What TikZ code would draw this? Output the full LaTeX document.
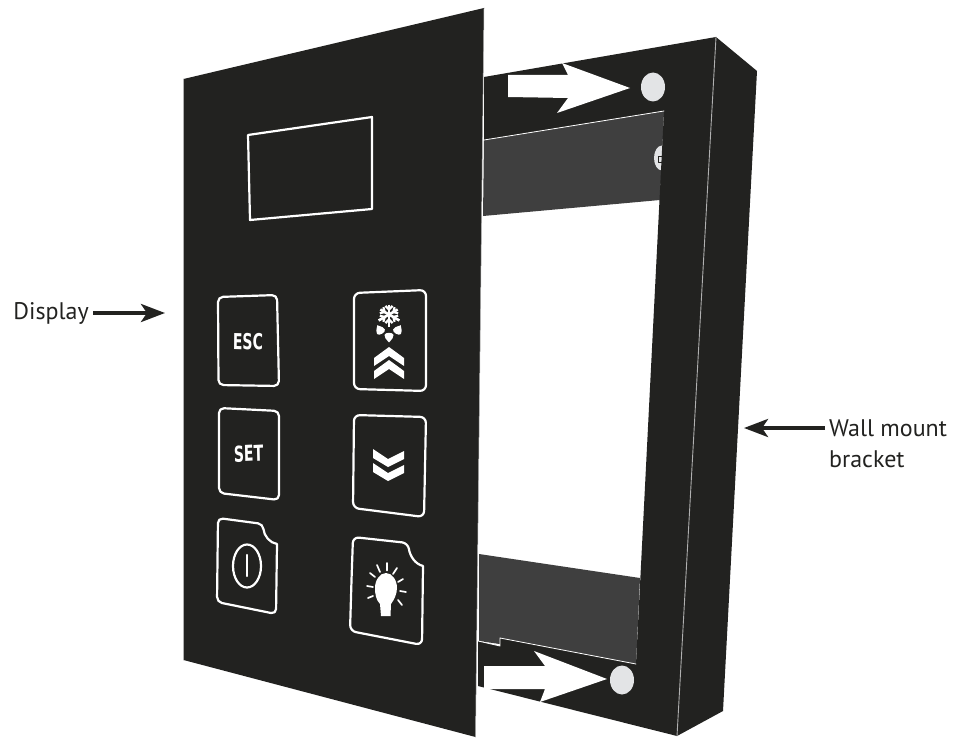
\documentclass[tikz,border=0pt]{standalone}
\usepackage{fontspec}
\setmainfont{PT Sans}
\newfontfamily\keyfont{DejaVu Sans}
\usetikzlibrary{arrows.meta}
\definecolor{panelblack}{HTML}{222220}
\definecolor{bandgray}{HTML}{3F3F3F}
\definecolor{screwgray}{HTML}{E3E4E6}
\definecolor{edgegray}{HTML}{B0B0B0}
\begin{document}
\begin{tikzpicture}[x=1pt,y=-1pt,line cap=round,line join=round,
  every node/.style={font=\fontsize{24}{31}\selectfont,text=panelblack},
  btn/.style={draw=white,line width=2.2pt},
  keytext/.style={font=\keyfont\bfseries\fontsize{22}{22}\selectfont,text=white,
    inner sep=0pt,xscale=.64,transform shape},
  callout/.style={draw=panelblack,line width=3.8pt,line cap=butt,
    -{Stealth[length=24pt,width=18pt,inset=6pt]}},
  ray/.style={draw=white,line width=1.7pt},
  movearrow/.style={fill=white,draw=none}]
  \useasboundingbox (0,0) rectangle (955,738);
  % bands seen through the bracket opening
  \fill[bandgray] (484,140) -- (664,111) -- (660,200) -- (483,216) -- cycle;
  \fill[bandgray] (479,554) -- (640,578) -- (636,664) -- (479,641) -- cycle;
  \fill[screwgray] (662,158) ellipse [x radius=8,y radius=12.5];
  \draw[panelblack,line width=.7pt] (658,156) rectangle (664,162);
  % bracket frame, open towards the panel
  \fill[panelblack] (484,77) -- (716,37) -- (757,71) -- (723,711) -- (677,736)
    -- (478,686) -- (478,641) -- (500,646) -- (500,638) -- (636,664)
    -- (664,111) -- (484,140) -- cycle;
  \draw[white,line width=.8pt] (484,140) -- (664,111);
  \draw[white,line width=.8pt] (478,641) -- (500,646) -- (500,638) -- (636,664);
  \draw[edgegray,line width=.9pt] (716,37) -- (677,736);
  % screws of the bracket
  \foreach \cx/\cy in {653/87,622/680}
    \fill[screwgray] (\cx,\cy) ellipse [x radius=12,y radius=14.5];
  % white arrows towards the screws
  \fill[movearrow] (508,75) -- (568,75) -- (562,63) -- (630,88) -- (557,113)
    -- (568,98) -- (508,97) -- cycle;
  \fill[movearrow] (484,666) -- (545,666) -- (534,651) -- (607,679) -- (540,702)
    -- (545,689) -- (484,689) -- cycle;
  % front panel
  \fill[panelblack] (183.5,79) -- (484,8) -- (475.5,737) -- (183.5,660) -- cycle;
  \draw[edgegray,line width=.5pt] (183.5,660) -- (183.5,79);
  \draw[edgegray,line width=.5pt] (484,8) -- (475.5,737);
  % display window
  \draw[btn] (248,135) -- (372,117) -- (372,209) -- (250,220) -- cycle;
  % keys, left column
  \draw[btn,rounded corners=5pt] (218,297) -- (277,295) -- (279,386) -- (218.5,385) -- cycle;
  \node[keytext,rotate=-1] (esc) at (248,341.5) {ESC};
  \draw[btn,rounded corners=5pt] (219,408) -- (279,411) -- (279,500) -- (219,493) -- cycle;
  \node[keytext,rotate=2] (set) at (248.5,453.5) {SET};
  \draw[btn] (217.5,560) [rounded corners=5pt] -- (218,518) -- (263,524) [sharp corners]
    .. controls (264,536) and (270,543) .. (277,544) [rounded corners=5pt]
    -- (276,614) -- (217,602) -- cycle;
  \draw[btn] (247,566) ellipse [x radius=14,y radius=21.5];
  \draw[white,line width=2.4pt] (247,555) -- (247,576);
  % keys, right column
  \draw[btn,rounded corners=6pt] (354,293) -- (426,290) -- (426,391) -- (354,389) -- cycle;
  \draw[btn,rounded corners=6pt] (354,415) -- (426,417) -- (424,517) -- (353,508) -- cycle;
  \draw[btn] (351.5,580) [rounded corners=6pt] -- (353,537) -- (408,543) [sharp corners]
    .. controls (410,556) and (415,564) .. (423,566) [rounded corners=6pt]
    -- (422,645) -- (350,631) -- cycle;
  % snowflake
  \foreach \ang in {90,150,30} {
    \draw[white,line width=2.6pt,line cap=butt] (389,314.5) ++(\ang:-10) -- ++(\ang:22);
    \draw[white,line width=2.2pt,line cap=butt]
      (389,314.5) ++(\ang:5) ++(\ang+45:5) -- ++(\ang+45:-5) -- ++(\ang-45:5);
    \draw[white,line width=2.2pt,line cap=butt]
      (389,314.5) ++(\ang:-5) ++(\ang+45:-5) -- ++(\ang+45:5) -- ++(\ang-45:-5);
  }
  % drops
  \foreach \dx/\dy/\ang in {380/330/30,398/330/-30,389/337/180}
    \fill[white,shift={(\dx,\dy)},rotate=\ang] (0,-5.5) .. controls (-3,-2) and (-5,0) .. (-4.5,2)
      .. controls (-4,5) and (4,5) .. (4.5,2)
      .. controls (5,0) and (3,-2) .. (0,-5.5) -- cycle;
  % chevrons up and down
  \foreach \dy in {0,13}
    \fill[white] (374,358+\dy) -- (389,347+\dy) -- (404,358+\dy) -- (404,366+\dy)
      -- (389,356+\dy) -- (374,366+\dy) -- cycle;
  \foreach \dy in {0,14}
    \fill[white] (373,449+\dy) -- (388,459+\dy) -- (404,451+\dy) -- (404,459+\dy)
      -- (388,467+\dy) -- (373,458+\dy) -- cycle;
  % bulb
  \fill[white] (381,616) -- (380,604) .. controls (376,600) and (375,594) .. (375,588)
    .. controls (375,580) and (380,573) .. (386,573)
    .. controls (392,573) and (397,580) .. (397,588)
    .. controls (397,594) and (394,600) .. (391,604) -- (390.5,616) -- cycle;
  \foreach \xa/\ya/\xb/\yb in {387/563/387/570.5,377/565/380/572,397/568/393/574,
    370/573/375/577,403/579/398/582,367/586/373/587,406/592/400/591,
    368/598/373/596,402/605/398/600}
    \draw[ray] (\xa,\ya) -- (\xb,\yb);
  % callouts
  \node[anchor=east,inner sep=4pt] (display) at (93,313) {Display};
  \coordinate (displaytip) at (165,313);
  \draw[callout] (display) -- (displaytip);
  \node[anchor=west,inner sep=4pt,align=left] (wall) at (825,444) {Wall mount\\bracket};
  \coordinate (walltip) at (744,428);
  \draw[callout] (wall.west |- walltip) -- (walltip);
\end{tikzpicture}
\end{document}
